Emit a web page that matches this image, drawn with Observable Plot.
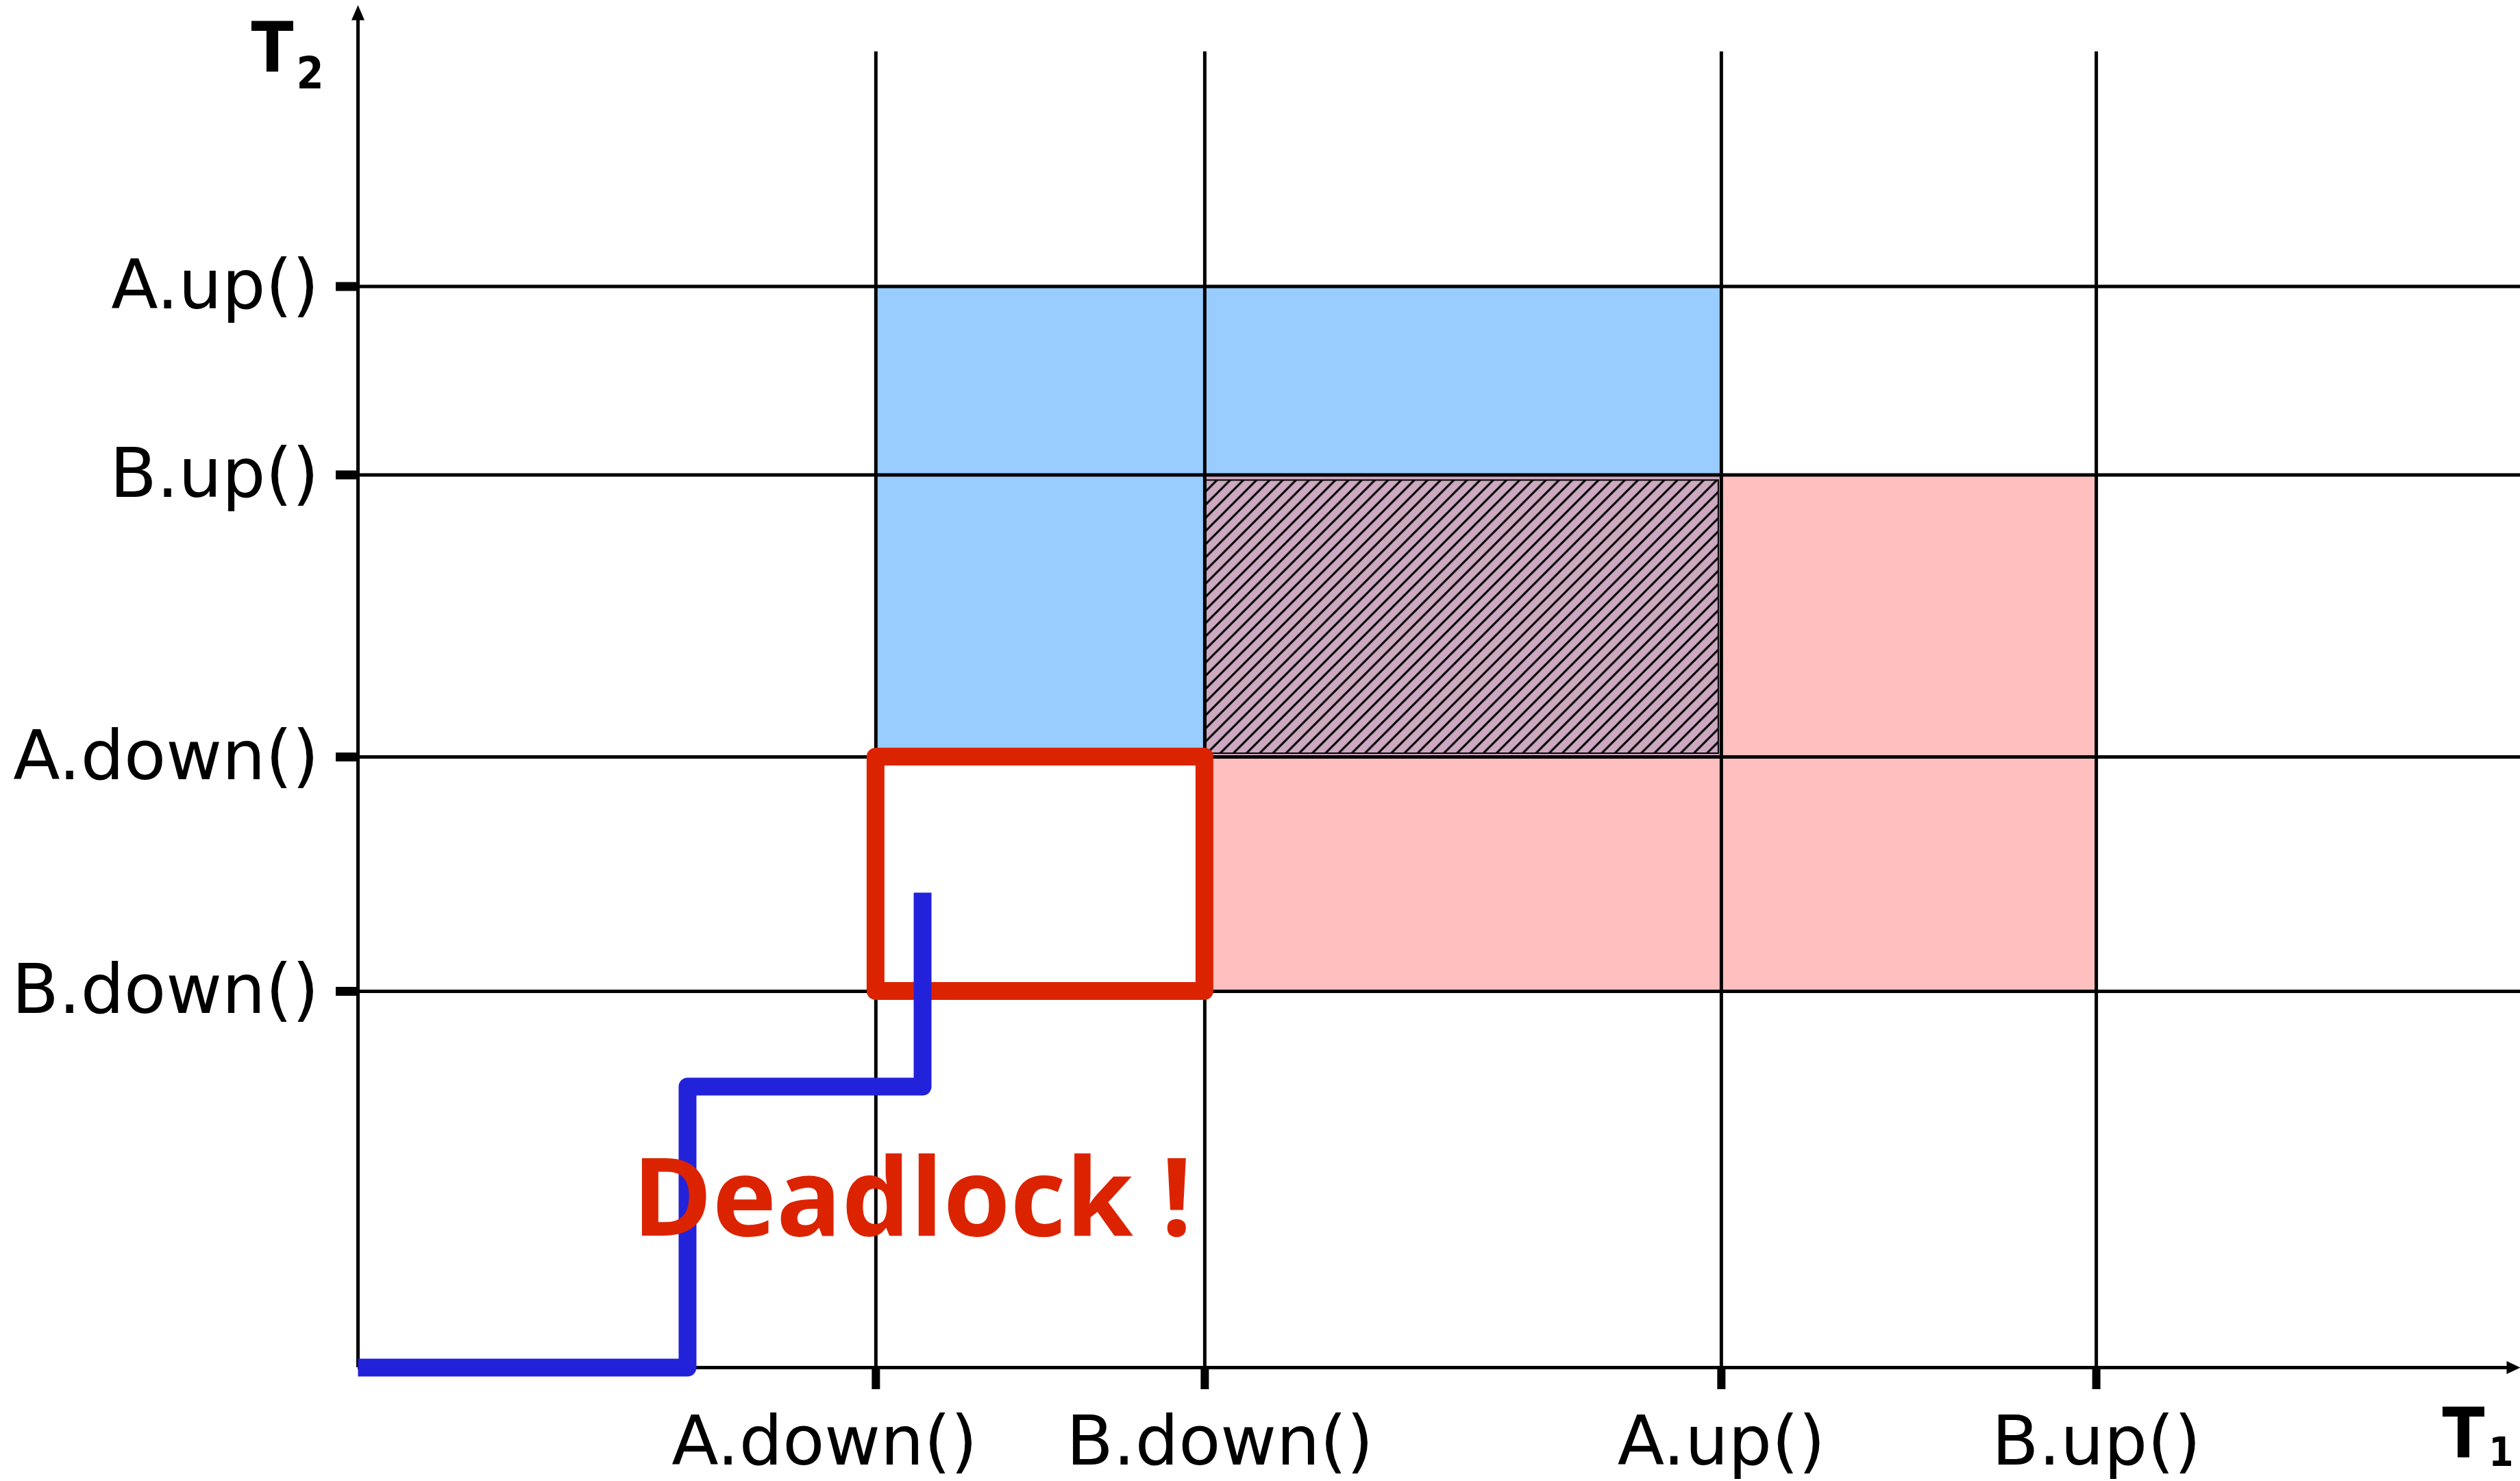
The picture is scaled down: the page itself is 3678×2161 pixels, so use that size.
<!DOCTYPE html>
<html>
<head>
<meta charset="utf-8">
<script src="https://cdn.jsdelivr.net/npm/d3@7"></script>
<script src="https://cdn.jsdelivr.net/npm/@observablehq/plot@0.6"></script>
<style>
  html, body { margin: 0; padding: 0; background: #ffffff; }
  svg { display: block; }
</style>
</head>
<body>
<div id="chart"></div>
<script>
// ---- data (progress of thread T1 on x, thread T2 on y) ----
const t1Events = ["A.down()", "B.down()", "A.up()", "B.up()"];
const t1Times  = [23.95, 39.16, 63.05, 80.39];
const t2Events = ["A.up()", "B.up()", "A.down()", "B.down()"];
const t2Times  = [79.07, 65.29, 44.66, 27.52];
const locks = ["A", "B"];
// joint execution trajectory
const pathT1 = [0, 15.24, 15.24, 26.11, 26.11];
const pathT2 = [0, 0, 20.55, 20.55, 34.74];
const deadlockLabel = ["Deadlock !"];
const xAxisName = ["T", "1"];
const yAxisName = ["T", "2"];

// ---- derived tables ----
const t1 = e => t1Times[t1Events.indexOf(e)];
const t2 = e => t2Times[t2Events.indexOf(e)];
const regions = locks.map(L => ({
  lock: L,
  x1: t1(L + ".down()"), x2: t1(L + ".up()"),
  y1: t2(L + ".down()"), y2: t2(L + ".up()")
}));
const overlap = [{
  x1: d3.max(regions, d => d.x1), x2: d3.min(regions, d => d.x2),
  y1: d3.max(regions, d => d.y1), y2: d3.min(regions, d => d.y2)
}];
const deadlock = [{
  x1: t1("A.down()"), x2: t1("B.down()"),
  y1: t2("B.down()"), y2: t2("A.down()")
}];
const path = pathT1.map((v, i) => ({t1: v, t2: pathT2[i]}));

const RED = "#dc2300";
const BLUE = "#2322db";
const labelFont = "'DejaVu Sans', sans-serif";
const titleFont = "'Liberation Sans Narrow', 'DejaVu Sans Condensed', sans-serif";

const svg = Plot.plot({
  width: 3678,
  height: 2161,
  marginLeft: 522,
  marginRight: 0,
  marginTop: 0,
  marginBottom: 166,
  style: {background: "#ffffff", fontFamily: labelFont, color: "black"},
  x: {domain: [0, 100]},
  y: {domain: [0, 100]},
  color: {domain: locks, range: ["#99ccff", "#ffbfbf"]},
  marks: [
    // critical sections
    Plot.rect(regions, {x1: "x1", x2: "x2", y1: "y1", y2: "y2", fill: "lock"}),
    Plot.rect(overlap, {x1: "x1", x2: "x2", y1: "y1", y2: "y2", fill: "#cca9c1"}),
    Plot.rect(overlap, {x1: "x1", x2: "x2", y1: "y1", y2: "y2", fill: "url(#hatch)",
      stroke: "black", strokeWidth: 2, insetTop: 8, insetBottom: 5, insetLeft: 2, insetRight: 4}),
    // grid lines
    Plot.ruleX(t1Times, {y1: 0, y2: 96.24, stroke: "black", strokeWidth: 5}),
    Plot.ruleY(t2Times, {x1: 0, x2: 100, stroke: "black", strokeWidth: 5}),
    // axes lines with arrow heads
    Plot.ruleX([0], {y1: 0, y2: 98.7, stroke: "black", strokeWidth: 5}),
    Plot.ruleY([0], {x1: 0, x2: 99.45, stroke: "black", strokeWidth: 5}),
    Plot.vector([{t1: 0, t2: 99.65}], {x: "t1", y: "t2", length: 22, r: 9.5, shape: "spike",
      anchor: "end", fill: "black", stroke: "none"}),
    Plot.vector([{t1: 100, t2: 0}], {x: "t1", y: "t2", length: 20, r: 9.5, shape: "spike",
      anchor: "end", rotate: 90, fill: "black", stroke: "none"}),
    // tick marks
    Plot.axisX({ticks: t1Times, tickFormat: () => "", tickSize: 32, strokeWidth: 12, label: null}),
    Plot.axisY({ticks: t2Times, tickFormat: () => "", tickSize: 32, strokeWidth: 13, label: null}),
    // deadlock region
    Plot.rect(deadlock, {x1: "x1", x2: "x2", y1: "y1", y2: "y2", fill: "none",
      stroke: RED, strokeWidth: 26, strokeLinejoin: "round"}),
    // trajectory
    Plot.line(path, {x: "t1", y: "t2", stroke: BLUE, strokeWidth: 26,
      strokeLinejoin: "round", strokeLinecap: "butt"}),
    // tick labels
    Plot.text(t1Events, {x: (d, i) => t1Times[i], text: d => d, frameAnchor: "bottom",
      lineAnchor: "top", dy: 70, fontSize: 100, fontFamily: labelFont, fill: "black",
      filter: d => d !== "A.down()" && d !== "B.down()"}),
    Plot.text(t1Events, {x: (d, i) => t1Times[i], text: d => d, frameAnchor: "bottom",
      lineAnchor: "top", dy: 70, dx: 22, fontSize: 100, fontFamily: labelFont, fill: "black",
      filter: d => d === "B.down()"}),
    Plot.text(t1Events, {x: (d, i) => t1Times[i], text: d => d, frameAnchor: "bottom",
      lineAnchor: "top", dy: 70, dx: -75, fontSize: 100, fontFamily: labelFont, fill: "black",
      filter: d => d === "A.down()"}),
    Plot.text(t2Events, {y: (d, i) => t2Times[i], text: d => d, frameAnchor: "left",
      textAnchor: "end", dx: -57, fontSize: 100, fontFamily: labelFont, fill: "black"}),
    // annotation
    Plot.text(deadlockLabel, {x: () => 25.63, y: () => 12.2, text: d => d,
      fontSize: 158, fontWeight: "bold", fontFamily: "'Open Sans', sans-serif", fill: RED}),
    // axis names
    Plot.text([yAxisName[0]], {text: d => d, frameAnchor: "top-left", textAnchor: "end",
      lineAnchor: "top", dx: -94, dy: 33, fontSize: 101, fontWeight: "bold", fontFamily: titleFont, fill: "black"}),
    Plot.text([yAxisName[1]], {text: d => d, frameAnchor: "top-left", textAnchor: "end",
      lineAnchor: "top", dx: -50, dy: 83, fontSize: 64, fontWeight: "bold", fontFamily: titleFont, fill: "black"}),
    Plot.text([xAxisName[0]], {text: d => d, frameAnchor: "bottom-right", textAnchor: "end",
      lineAnchor: "top", dx: -52, dy: 60, fontSize: 101, fontWeight: "bold", fontFamily: titleFont, fill: "black"}),
    Plot.text([xAxisName[1]], {text: d => d, frameAnchor: "bottom-right", textAnchor: "end",
      lineAnchor: "top", dx: -10, dy: 102, fontSize: 58, fontWeight: "bold", fontFamily: titleFont, fill: "black"})
  ]
});

// hatch pattern for the region where both locks are held
const s = 19.2;
svg.insertAdjacentHTML("afterbegin",
  `<defs><pattern id="hatch" patternUnits="userSpaceOnUse" width="${s}" height="${s}">
     <path d="M0,${s} L${s},0 M${-s/2},${s/2} L${s/2},${-s/2} M${s/2},${1.5*s} L${1.5*s},${s/2}"
       stroke="black" stroke-width="3" fill="none"/>
   </pattern></defs>`);

document.getElementById("chart").appendChild(svg);
</script>
</body>
</html>
